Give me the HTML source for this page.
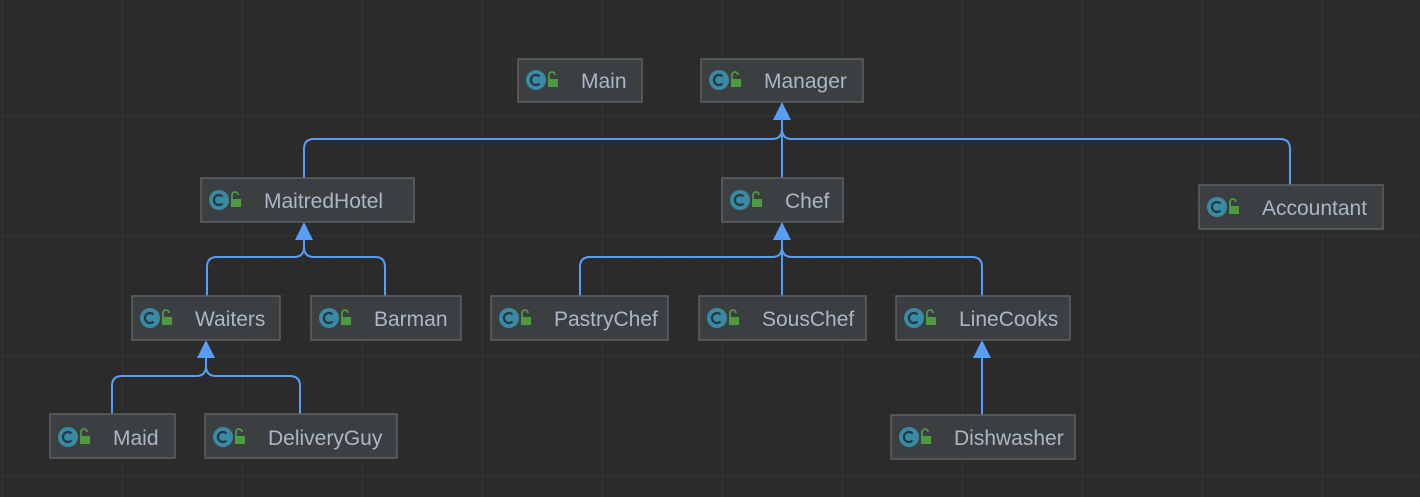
<!DOCTYPE html>
<html><head><style>
html,body{margin:0;padding:0;background:#2b2b2b;}
svg{display:block}
text{font-family:"Liberation Sans",sans-serif;}
</style></head><body>
<svg width="1420" height="497" viewBox="0 0 1420 497" xmlns="http://www.w3.org/2000/svg">
<defs>
<pattern id="minor" x="2" y="25" width="30" height="30" patternUnits="userSpaceOnUse">
<path d="M0 0H30M0 0V30" stroke="#323232" stroke-width="1" fill="none"/>
</pattern>
<pattern id="major" x="2" y="115" width="120" height="120" patternUnits="userSpaceOnUse">
<path d="M0 0H120M0 0V120" stroke="#383838" stroke-width="1.5" fill="none"/>
</pattern>
<g id="ic">
<circle cx="0" cy="0" r="10" fill="#3a8aa3"/>
<path d="M3.5,-3.5 A5,5 0 1 0 3.5,3.5" stroke="#1f3a45" stroke-width="2.2" fill="none"/>
<rect x="12" y="-1" width="10" height="8" fill="#4e9a3e"/>
<path d="M13,-1 V-5 A3,3 0 0 1 19,-5" stroke="#4e9a3e" stroke-width="1.8" fill="none"/>
</g>
</defs>
<rect width="1420" height="497" fill="#2b2b2b"/>
<rect width="1420" height="497" fill="url(#minor)"/>
<rect width="1420" height="497" fill="url(#major)"/>

<g stroke="#589df6" stroke-width="2" fill="none">
<!-- Manager -->
<path d="M782,118 V129 Q782,139 772,139 H314 Q304,139 304,149 V178"/>
<path d="M782,129 Q782,139 792,139 H1280 Q1290,139 1290,149 V185"/>
<path d="M782,118 V178"/>
<!-- Chef -->
<path d="M782,238 V247 Q782,257 772,257 H590 Q580,257 580,267 V296"/>
<path d="M782,247 Q782,257 792,257 H972 Q982,257 982,267 V296"/>
<path d="M782,238 V296"/>
<!-- MaitredHotel -->
<path d="M304,238 V247 Q304,257 294,257 H217 Q207,257 207,267 V296"/>
<path d="M304,247 Q304,257 314,257 H375 Q385,257 385,267 V296"/>
<!-- Waiters -->
<path d="M206,356 V366 Q206,376 196,376 H122 Q112,376 112,386 V414"/>
<path d="M206,366 Q206,376 216,376 H290 Q300,376 300,386 V414"/>
<!-- LineCooks -->
<path d="M982,356 V415"/>
</g>
<g fill="#589df6">
<polygon points="782,102 773,120 791,120"/>
<polygon points="782,222 773,240 791,240"/>
<polygon points="304,222 295,240 313,240"/>
<polygon points="206,340 197,358 215,358"/>
<polygon points="982,340 973,358 991,358"/>
</g>

<g stroke="#5e6060" stroke-width="1.5" fill="#3c3f41">
<rect x="518" y="59" width="124" height="43"/>
<rect x="701" y="59" width="162" height="43"/>
<rect x="201" y="178" width="213" height="44"/>
<rect x="722" y="178" width="121" height="44"/>
<rect x="1199" y="185" width="184" height="44"/>
<rect x="132" y="296" width="148" height="44"/>
<rect x="311" y="296" width="150" height="44"/>
<rect x="491" y="296" width="177" height="44"/>
<rect x="699" y="296" width="167" height="44"/>
<rect x="896" y="296" width="174" height="44"/>
<rect x="50" y="414" width="125" height="44"/>
<rect x="205" y="414" width="192" height="44"/>
<rect x="891" y="415" width="184" height="44"/>
</g>
<use href="#ic" x="536" y="80"/>
<use href="#ic" x="719" y="80"/>
<use href="#ic" x="219" y="200"/>
<use href="#ic" x="740" y="200"/>
<use href="#ic" x="1217" y="207"/>
<use href="#ic" x="150" y="318"/>
<use href="#ic" x="329" y="318"/>
<use href="#ic" x="509" y="318"/>
<use href="#ic" x="717" y="318"/>
<use href="#ic" x="914" y="318"/>
<use href="#ic" x="68" y="437"/>
<use href="#ic" x="223" y="437"/>
<use href="#ic" x="909" y="437"/>

<g fill="#a9b7c6" font-size="21">
<text x="581" y="88">Main</text>
<text x="764" y="88">Manager</text>
<text x="264" y="208">MaitredHotel</text>
<text x="785" y="208">Chef</text>
<text x="1262" y="215">Accountant</text>
<text x="195" y="326">Waiters</text>
<text x="374" y="326">Barman</text>
<text x="554" y="326">PastryChef</text>
<text x="762" y="326">SousChef</text>
<text x="959" y="326">LineCooks</text>
<text x="113" y="445">Maid</text>
<text x="268" y="445">DeliveryGuy</text>
<text x="954" y="445">Dishwasher</text>
</g>
</svg>
</body></html>
